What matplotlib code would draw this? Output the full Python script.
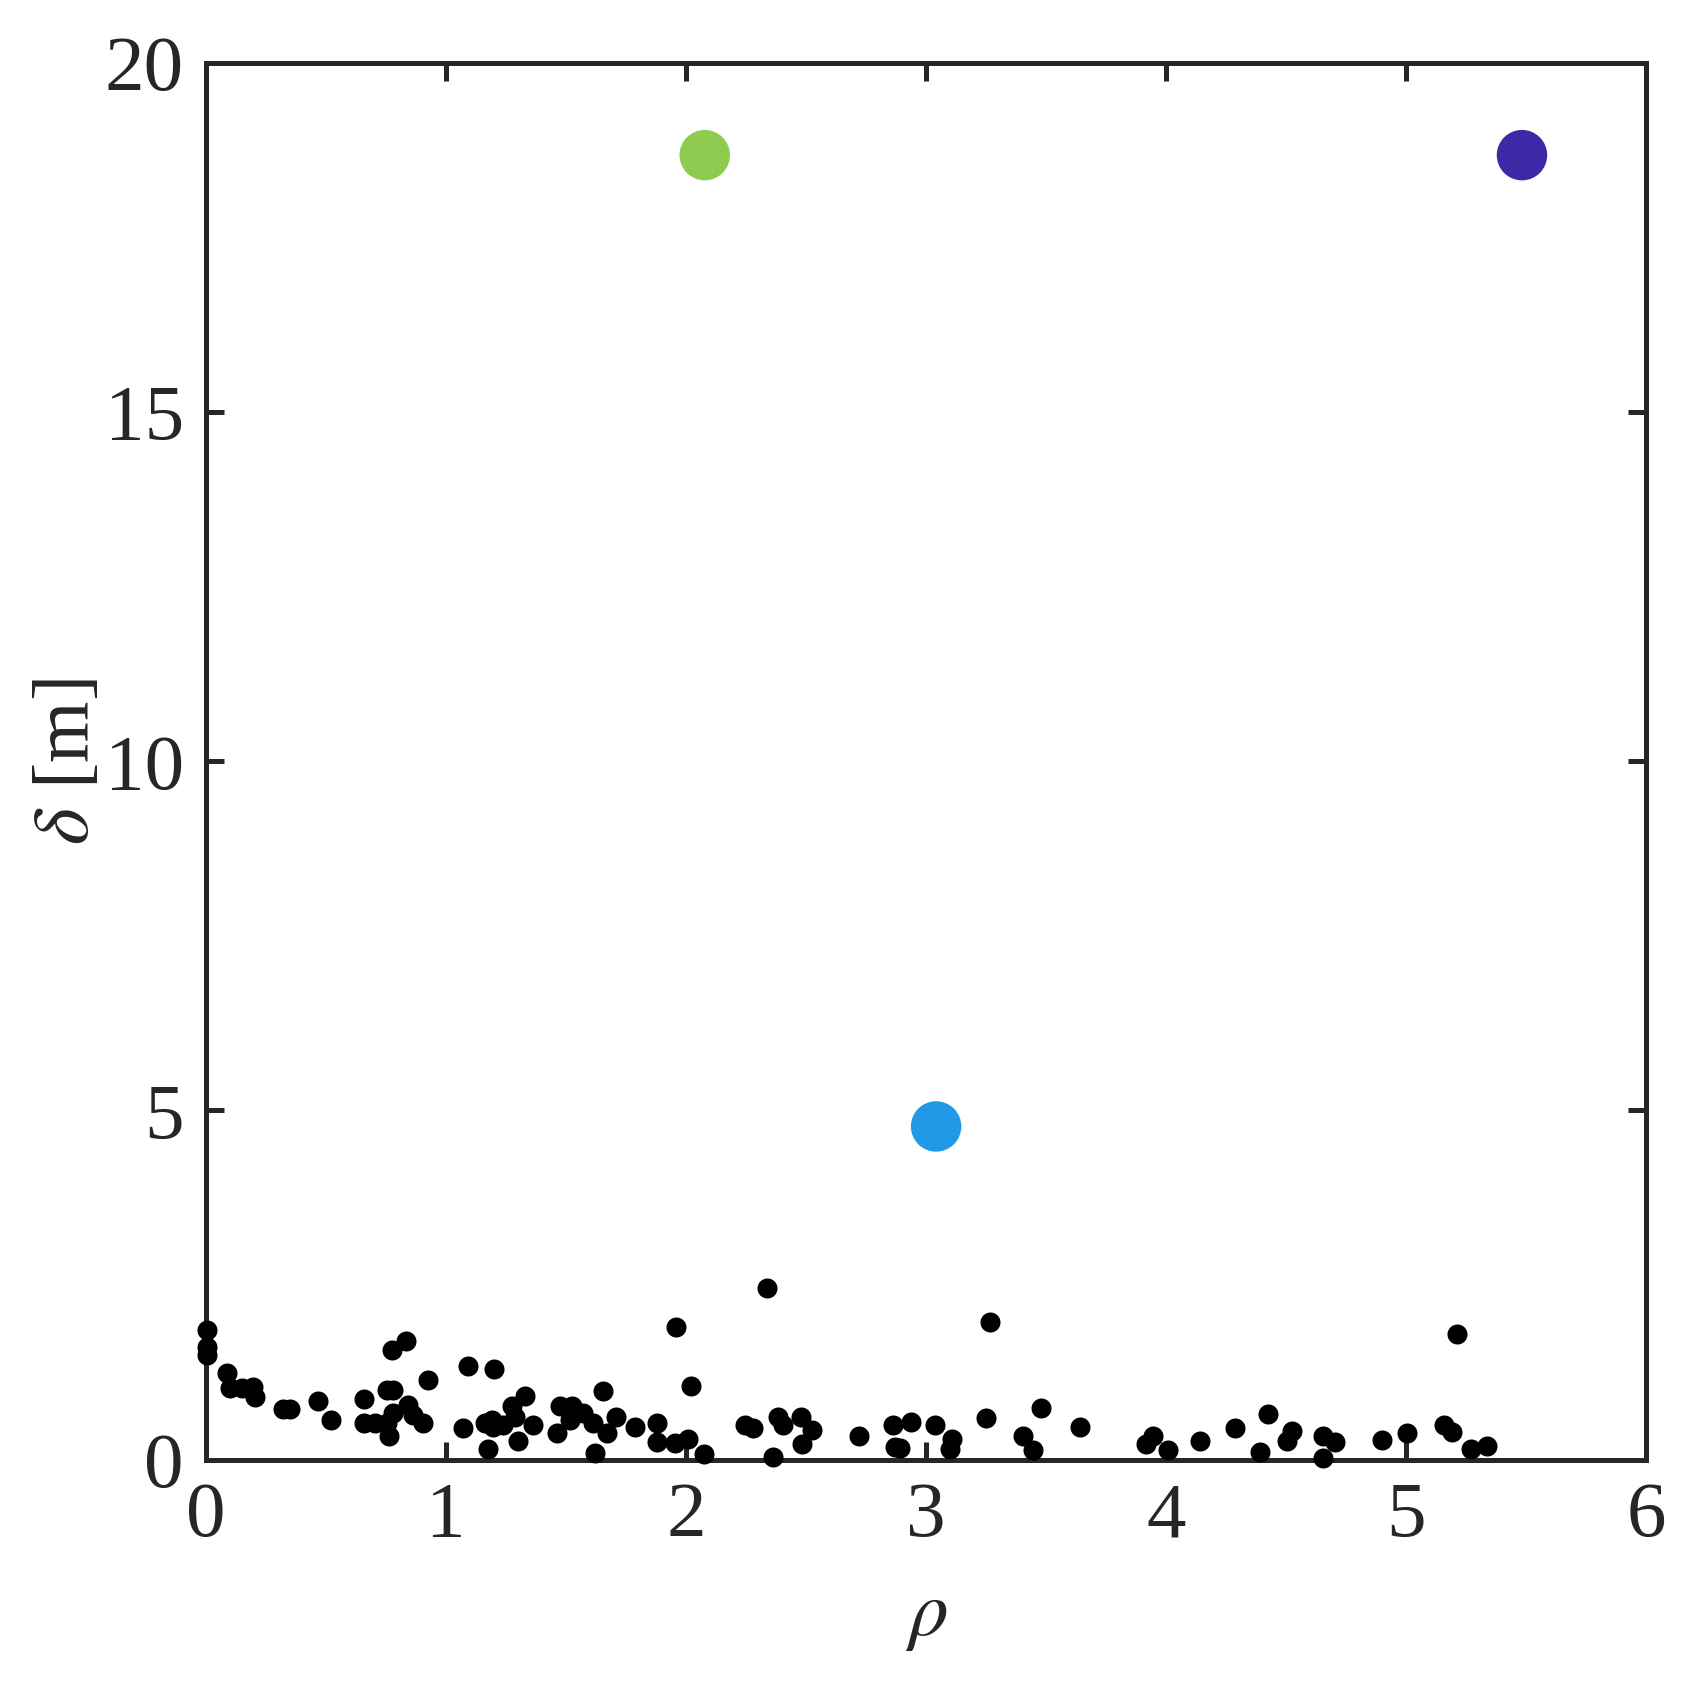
import matplotlib
matplotlib.use("Agg")
import matplotlib.pyplot as plt
import numpy as np

plt.rcParams['font.family'] = ['Liberation Serif', 'DejaVu Serif']
plt.rcParams['mathtext.fontset'] = 'stix'

# black points: rho, delta
rho = [0.003, 0.003, 0.003, 0.086, 0.10, 0.149, 0.195, 0.204,
       0.322, 0.35, 0.468, 0.521, 0.658, 0.658, 0.704, 0.753, 0.762,
       0.774, 0.833, 0.753, 0.78, 0.78, 0.843, 0.864, 0.906, 0.924,
       1.093, 1.201, 1.072, 1.174, 1.163, 1.19, 1.197, 1.239, 1.274,
       1.2875, 1.329, 1.361, 1.301,
       1.475, 1.524, 1.572, 1.461, 1.517, 1.614, 1.655, 1.669, 1.621,
       1.708, 1.7875, 1.878, 1.878, 1.954, 2.01, 1.958, 2.021, 2.075,
       2.336, 2.246, 2.28, 2.385, 2.405, 2.48, 2.524, 2.485, 2.361,
       2.721, 2.864, 2.871,
       2.892, 2.936, 3.0375, 3.107, 3.10, 3.267, 3.249, 3.479, 3.405,
       3.444, 3.642, 3.947, 3.917, 4.01, 4.142, 4.2875,
       4.424, 4.392, 4.526, 4.503, 4.653, 4.704, 4.653, 4.899, 5.005,
       5.16, 5.19, 5.211, 5.27, 5.339]
delta = [1.85, 1.61, 1.50, 1.24, 1.02, 1.02, 1.04, 0.90,
         0.73, 0.72, 0.84, 0.57, 0.86, 0.52, 0.52, 0.52, 0.33,
         1.57, 1.70, 0.99, 1.00, 0.66, 0.78, 0.64, 0.52, 1.14,
         1.34, 1.30, 0.45, 0.15, 0.52, 0.57, 0.47, 0.49, 0.76,
         0.61, 0.91, 0.49, 0.27,
         0.76, 0.76, 0.66, 0.375, 0.57, 0.52, 0.98, 0.375, 0.10,
         0.61, 0.47, 0.52, 0.255, 0.23, 0.30, 1.90, 1.05, 0.08,
         2.45, 0.49, 0.45, 0.61, 0.49, 0.61, 0.42, 0.22, 0.04,
         0.33, 0.49, 0.18,
         0.16, 0.54, 0.49, 0.30, 0.15, 1.97, 0.59, 0.74, 0.33,
         0.14, 0.47, 0.33, 0.22, 0.14, 0.265, 0.45,
         0.65, 0.11, 0.41, 0.27, 0.34, 0.255, 0.02, 0.28, 0.38,
         0.50, 0.40, 1.80, 0.15, 0.20]

# highlighted centres
centre_rho = [2.078, 3.042, 5.483]
centre_delta = [18.68, 4.77, 18.68]
centre_colors = ['#8fcb50', '#2299e6', '#3d28a8']

fig = plt.figure(figsize=(1694 / 200, 1684 / 200), dpi=200)
ax = fig.add_axes([0.1216, 0.1333, 0.8501, 0.8293])

ax.scatter(rho, delta, s=52, c='black', linewidths=0, zorder=3, clip_on=False)
ax.scatter(centre_rho, centre_delta, s=330, c=centre_colors, linewidths=0, zorder=4)

ax.set_xlim(0, 6)
ax.set_ylim(0, 20)
ax.set_xticks([0, 1, 2, 3, 4, 5, 6])
ax.set_yticks([0, 5, 10, 15, 20])

for s in ax.spines.values():
    s.set_linewidth(1.8)
    s.set_color('#262626')
ax.tick_params(direction='in', length=6.5, width=1.8, color='#262626',
               labelsize=28.5, labelcolor='#262626', top=True, right=True, pad=8)

ax.set_xlabel(r'$\rho$', fontsize=28.5, color='#262626', labelpad=10)
ax.set_ylabel(r'$\delta$ [m]', fontsize=28.5, color='#262626', labelpad=0)

fig.savefig('out.png', dpi=200)
